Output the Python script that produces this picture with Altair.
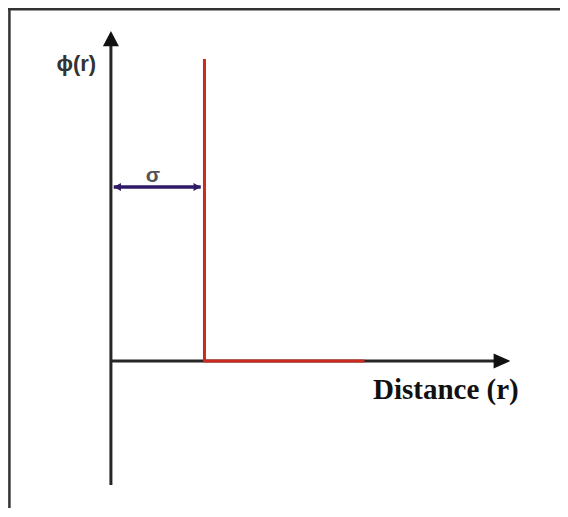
import altair as alt
import pandas as pd

# ---- diagram values (r in units of sigma, phi in arbitrary units) ----
r_domain = [-1.1, 4.80]
phi_domain = [-1.47, 3.53]

y_axis_r = 0.0
y_axis_phi = [-1.24, 3.3]          # bottom, top (arrow at top)
x_axis_phi = 0.0
x_axis_r = [0.0, 4.27]             # start, end (arrow at end)

sigma = 1.0
potential_r = [1.0, 1.0, 2.71]
potential_phi = [3.02, 0.0, 0.0]
potential_order = [0, 1, 2]

sigma_arrow_phi = 1.74
sigma_arrow_r = [0.03, 0.96]

labels_text = ["ϕ(r)", "σ", "Distance (r)"]
labels_r = [-0.37, 0.45, 3.58]
labels_phi = [2.97, 1.85, -0.38]

W, H = 552, 500
xs = alt.Scale(domain=r_domain, nice=False, zero=False)
ys = alt.Scale(domain=phi_domain, nice=False, zero=False)

def X(field="r"):
    return alt.X(f"{field}:Q", scale=xs, axis=None)

def Y(field="phi"):
    return alt.Y(f"{field}:Q", scale=ys, axis=None)

# frame (top and left edges)
frame_top = alt.Chart(pd.DataFrame({"r": [r_domain[0]], "r2": [r_domain[1]], "phi": [phi_domain[1] - 0.013]})).mark_rule(
    color="#333333", strokeWidth=2.5).encode(x=X(), x2="r2:Q", y=Y())
frame_left = alt.Chart(pd.DataFrame({"r": [r_domain[0] + 0.015], "phi": [phi_domain[0]], "phi2": [phi_domain[1]]})).mark_rule(
    color="#333333", strokeWidth=2.5).encode(x=X(), y=Y(), y2="phi2:Q")

# axes
y_axis = alt.Chart(pd.DataFrame({"r": [y_axis_r], "phi": [y_axis_phi[0]], "phi2": [y_axis_phi[1] - 0.1]})).mark_rule(
    color="#262626", strokeWidth=3).encode(x=X(), y=Y(), y2="phi2:Q")
x_axis = alt.Chart(pd.DataFrame({"r": [x_axis_r[0]], "r2": [x_axis_r[1] - 0.1], "phi": [x_axis_phi]})).mark_rule(
    color="#262626", strokeWidth=3).encode(x=X(), x2="r2:Q", y=Y())

y_head = alt.Chart(pd.DataFrame({"r": [y_axis_r], "phi": [y_axis_phi[1]]})).mark_point(
    shape="M0,0L1,1.9L-1,1.9Z", size=256, filled=True, opacity=1, color="#111111").encode(x=X(), y=Y())
x_head = alt.Chart(pd.DataFrame({"r": [x_axis_r[1]], "phi": [x_axis_phi]})).mark_point(
    shape="M0,0L-2.1,-0.95L-2.1,0.95Z", size=256, filled=True, opacity=1, color="#111111").encode(x=X(), y=Y())

# hard-sphere potential
pot = alt.Chart(pd.DataFrame({"r": potential_r, "phi": potential_phi, "o": potential_order})).mark_line(
    color="#cc2a1f", strokeWidth=3, strokeJoin="miter").encode(x=X(), y=Y(), order="o:Q")

# sigma double arrow
sig_line = alt.Chart(pd.DataFrame({"r": [sigma_arrow_r[0]], "r2": [sigma_arrow_r[1]], "phi": [sigma_arrow_phi]})).mark_rule(
    color="#2e1a66", strokeWidth=3.5).encode(x=X(), x2="r2:Q", y=Y())
sig_head_l = alt.Chart(pd.DataFrame({"r": [sigma_arrow_r[0]], "phi": [sigma_arrow_phi]})).mark_point(
    shape="M0,0L1.8,-1L1.8,1Z", size=64, filled=True, opacity=1, color="#2e1a66").encode(x=X(), y=Y())
sig_head_r = alt.Chart(pd.DataFrame({"r": [sigma_arrow_r[1]], "phi": [sigma_arrow_phi]})).mark_point(
    shape="M0,0L-1.8,-1L-1.8,1Z", size=64, filled=True, opacity=1, color="#2e1a66").encode(x=X(), y=Y())

# labels
phi_lbl = alt.Chart(pd.DataFrame({"r": [labels_r[0]], "phi": [labels_phi[0]], "t": [labels_text[0]]})).mark_text(
    font="Liberation Sans", fontWeight="bold", fontSize=22, color="#333333").encode(x=X(), y=Y(), text="t:N")
sig_lbl = alt.Chart(pd.DataFrame({"r": [labels_r[1]], "phi": [labels_phi[1]], "t": [labels_text[1]]})).mark_text(
    font="Liberation Sans", fontWeight="bold", fontSize=21, color="#555555").encode(x=X(), y=Y(), text="t:N")
dist_lbl = alt.Chart(pd.DataFrame({"r": [labels_r[2]], "phi": [labels_phi[2]], "t": [labels_text[2]]})).mark_text(
    font="Liberation Serif", fontWeight="bold", fontSize=29, color="#111111", baseline="alphabetic").encode(
    x=X(), y=Y(), text="t:N")

chart = alt.layer(frame_top, frame_left, y_axis, x_axis, y_head, x_head, pot,
                  sig_line, sig_head_l, sig_head_r, phi_lbl, sig_lbl, dist_lbl).properties(
    width=W, height=H, padding=0, autosize=alt.AutoSizeParams(type="none"), background="white"
).configure_view(stroke=None)

chart.save("out.html", embed_options={"renderer": "svg", "actions": False})
